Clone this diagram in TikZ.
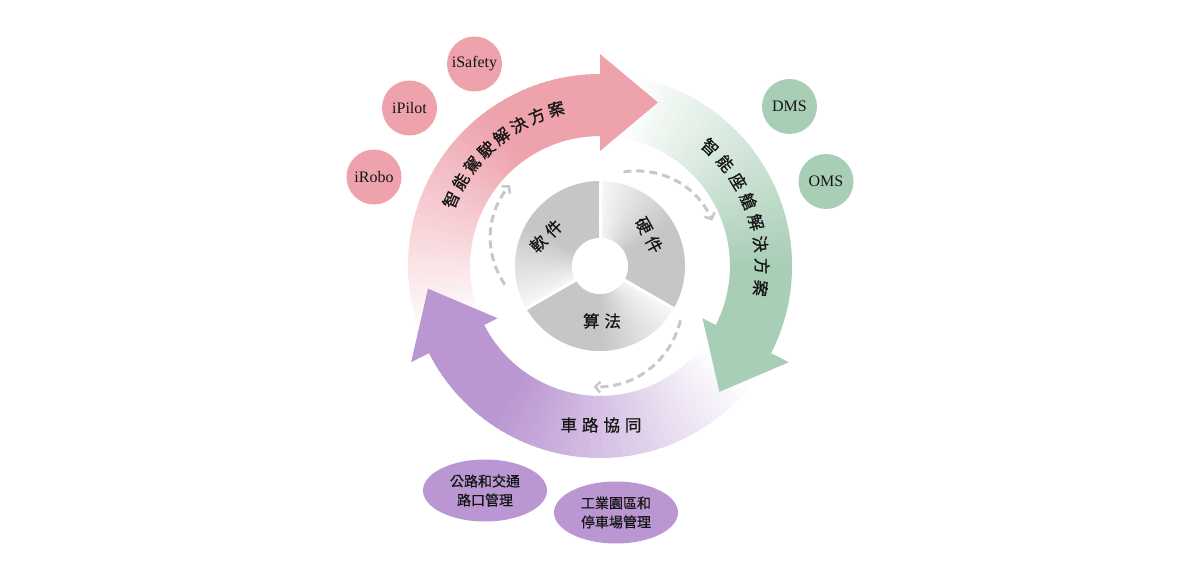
\documentclass[tikz,border=0pt]{standalone}
\usepackage{fontspec}
\setmainfont{Liberation Serif}
\newfontfamily\cjk[FakeBold=0.6]{Noto Sans CJK TC}
\newfontfamily\cjksp[LetterSpace=30,FakeBold=0.8]{Noto Sans CJK TC}
\newfontfamily\cjkarc[FakeBold=0.8]{Noto Sans CJK TC}
\usetikzlibrary{arrows.meta,calc,shapes.geometric}
\definecolor{pk}{HTML}{EEA2AC}
\definecolor{gn}{HTML}{A9CEB6}
\definecolor{pp}{HTML}{BA97D2}
\definecolor{dg}{HTML}{C6C6C6}
\definecolor{dashc}{HTML}{C8C8C8}
\definecolor{txt}{HTML}{151515}
\tikzset{
  sat/.style={circle, minimum size=55, inner sep=0pt, text=txt, font=\fontsize{16}{16}\selectfont},
  oval/.style={ellipse, fill=pp, minimum width=124, minimum height=62, inner sep=0pt, text=txt, align=center, font=\cjk\fontsize{14}{19}\selectfont},
  arctext/.style={text=txt, inner sep=0pt, font=\cjkarc\fontsize{16.5}{16.5}\selectfont},
  spacedtext/.style={text=txt, inner sep=0pt, font=\cjksp\fontsize{16.5}{16.5}\selectfont},
  dasharc/.style={dashc, line width=3pt, dash pattern=on 8pt off 5pt, -{Straight Barb[length=5pt,width=11pt,line width=2.5pt]}}
}
\begin{document}
\begin{tikzpicture}[x=1pt,y=1pt]
\useasboundingbox (0,0) rectangle (1200,579);
\begin{scope}[shift={(600,313)}]
% ---- bands ----
\foreach \a in {90,92,...,202}{
  \pgfmathsetmacro\p{\a<=125 ? 100 : max(0,100*(202-\a)/77)}
  \fill[pk!\p!white] (\a-0.3:130) arc[start angle=\a-0.3, end angle=\a+2.3, radius=130] -- (\a+2.3:192) arc[start angle=\a+2.3, end angle=\a-0.3, radius=192] -- cycle;
}
\foreach \a in {-27,-25,...,80}{
  \pgfmathsetmacro\p{\a<=0 ? 100 : max(0,100*(80-\a)/80)}
  \fill[gn!\p!white] (\a-0.3:130) arc[start angle=\a-0.3, end angle=\a+2.3, radius=130] -- (\a+2.3:192) arc[start angle=\a+2.3, end angle=\a-0.3, radius=192] -- cycle;
}
\foreach \a in {207,209,...,321}{
  \pgfmathsetmacro\p{\a<=235 ? 100 : max(0,100*(321-\a)/86)}
  \fill[pp!\p!white] (\a-0.3:130) arc[start angle=\a-0.3, end angle=\a+2.3, radius=130] -- (\a+2.3:192) arc[start angle=\a+2.3, end angle=\a-0.3, radius=192] -- cycle;
}
% ---- arrow heads ----
\fill[pk] (90:115) -- (90:212) -- (70.5:173.5) -- cycle;
\fill[gn] (-27:115) -- (-27:212) -- (-46.5:173.5) -- cycle;
\fill[pp] (207:115) -- (207:212) -- (187.5:173.5) -- cycle;
% ---- donut ----
\foreach \s in {90,210,330}{
  \foreach \d in {0,2,...,118}{
    \pgfmathsetmacro\a{\s-120+\d}
    \pgfmathsetmacro\p{\d<=60 ? 100 : 100-88*(\d-60)/60}
    \fill[dg!\p!white] (\a-0.3:28) arc[start angle=\a-0.3, end angle=\a+2.3, radius=28] -- (\a+2.3:85) arc[start angle=\a+2.3, end angle=\a-0.3, radius=85] -- cycle;
  }
}
\foreach \s in {90,210,330}{
  \draw[white, line width=3pt] (0,0) -- (\s:87);
}
\fill[white] (0,0) circle (28);
% ---- dashed arcs ----
\draw[dasharc] plot[domain=191:138, samples=30, smooth] (\x:{97+24*sin(90*(191-\x)/53)});
\draw[dasharc] plot[domain=76:22, samples=30, smooth] (\x:{97+24*sin(90*(76-\x)/54)});
\draw[dasharc] plot[domain=-34:-93, samples=30, smooth] (\x:{97+24*sin(90*(-34-\x)/59)});
% ---- arc texts ----
\foreach \c [count=\i from 0] in {智,能,駕,駛,解,決,方,案}{
  \node[arctext, rotate={156-7.2*\i-90}] (p\i) at ({156-7.2*\i}:163) {\c};
}
\foreach \c [count=\i from 0] in {智,能,座,艙,解,決,方,案}{
  \node[arctext, rotate={47.2-7.87*\i-90}] (g\i) at ({47.2-7.87*\i}:162) {\c};
}
\node[spacedtext] (cvs) at (1,-159) {車路協同};
% ---- donut labels ----
\node[spacedtext, rotate=45] (soft) at (-54,30) {軟件};
\node[spacedtext, rotate=-62] (hard) at (49,31) {硬件};
\node[spacedtext] (algo) at (2,-55) {算法};
\end{scope}
% ---- satellites ----
\node[sat, fill=pk] (isafety) at (474.5,515) {iSafety};
\node[sat, fill=pk] (ipilot) at (409.5,471) {iPilot};
\node[sat, fill=pk] (irobo) at (374,402) {iRobo};
\node[sat, fill=gn] (dms) at (789.5,472.5) {DMS};
\node[sat, fill=gn] (oms) at (826,397.5) {OMS};
\node[oval] (road) at (485,88.5) {公路和交通\\路口管理};
\node[oval] (park) at (616,66.5) {工業園區和\\停車場管理};
\end{tikzpicture}
\end{document}
